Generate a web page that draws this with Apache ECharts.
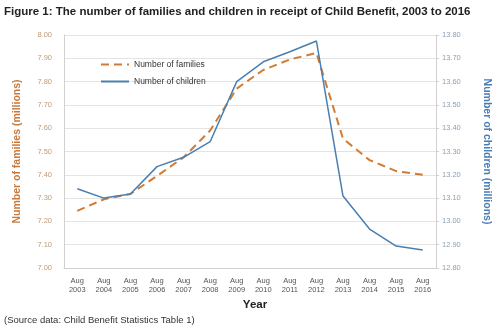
<!DOCTYPE html>
<html><head><meta charset="utf-8">
<script src="https://cdn.jsdelivr.net/npm/echarts@6/dist/echarts.min.js"></script>
<style>html,body{margin:0;padding:0;background:#fff}#c{width:500px;height:325px}</style>
</head><body><div id="c"></div>
<script>
const years = ['2003','2004','2005','2006','2007','2008','2009','2010','2011','2012','2013','2014','2015','2016'];
const categories = years.map(y => 'Aug\n' + y);
const families = [7.245, 7.295, 7.318, 7.395, 7.475, 7.59, 7.77, 7.85, 7.895, 7.923, 7.555, 7.463, 7.416, 7.40];
const children = [13.14, 13.10, 13.118, 13.235, 13.275, 13.342, 13.60, 13.685, 13.728, 13.774, 13.109, 12.967, 12.894, 12.877];
const leftTicks = [7.0, 8.0, 0.1];
const rightTicks = [12.8, 13.8, 0.1];

const chart = echarts.init(document.getElementById('c'), null, {renderer: 'canvas'});
const font = 'Liberation Sans, Arial, sans-serif';
chart.setOption({
  animation: false,
  textStyle: {fontFamily: font},
  title: [
    {text: 'Figure 1: The number of families and children in receipt of Child Benefit, 2003 to 2016',
     left: 4, top: 6, padding: 0, textStyle: {fontSize: 11.5, fontWeight: 'bold', color: '#222', fontFamily: font}},
    {text: '(Source data: Child Benefit Statistics Table 1)', left: 4, top: 315, padding: 0,
     textStyle: {fontSize: 9.5, fontWeight: 'normal', color: '#333', fontFamily: font}}
  ],
  grid: {left: 64, right: 63, top: 35, bottom: 57},
  legend: {
    orient: 'vertical', left: 95, top: 55, itemGap: 8, itemWidth: 28, itemHeight: 8,
    itemStyle: {opacity: 0},
    textStyle: {fontSize: 8.5, color: '#333', fontFamily: font},
    data: ['Number of families', 'Number of children']
  },
  xAxis: {
    type: 'category', data: categories, boundaryGap: true,
    name: 'Year', nameLocation: 'middle', nameGap: 29,
    nameTextStyle: {fontSize: 11.5, fontWeight: 'bold', color: '#222', padding: [0, 0, 0, 10]},
    axisLine: {lineStyle: {color: '#d0d0d0'}},
    axisTick: {show: false},
    axisLabel: {fontSize: 7.5, color: '#555', lineHeight: 9, interval: 0}
  },
  yAxis: [
    {type: 'value', min: leftTicks[0], max: leftTicks[1], interval: leftTicks[2],
     name: 'Number of families (millions)', nameLocation: 'middle', nameGap: 41,
     nameTextStyle: {fontSize: 10.5, fontWeight: 'bold', color: '#c8783a'},
     axisLine: {show: true, lineStyle: {color: '#d0d0d0'}},
     axisTick: {show: false},
     axisLabel: {fontSize: 7.5, color: '#c09a78', formatter: v => v.toFixed(2), margin: 12},
     splitLine: {lineStyle: {color: '#e4e4e4'}}},
    {type: 'value', min: rightTicks[0], max: rightTicks[1], interval: rightTicks[2], position: 'right',
     name: 'Number of children (millions)', nameLocation: 'middle', nameGap: 45, nameRotate: -90,
     nameTextStyle: {fontSize: 10.5, fontWeight: 'bold', color: '#4a7db5'},
     axisLine: {show: true, lineStyle: {color: '#d0d0d0'}},
     axisTick: {show: true, length: 3, lineStyle: {color: '#d0d0d0'}},
     axisLabel: {fontSize: 7.5, color: '#8a9fb8', formatter: v => v.toFixed(2), margin: 6},
     splitLine: {show: false}}
  ],
  series: [
    {name: 'Number of families', type: 'line', yAxisIndex: 0, data: families, symbol: 'none',
     lineStyle: {color: '#d27b34', width: 2, type: [8, 5]}, itemStyle: {color: '#d27b34'}},
    {name: 'Number of children', type: 'line', yAxisIndex: 1, data: children, symbol: 'none',
     lineStyle: {color: '#4a7eb0', width: 1.5}, itemStyle: {color: '#4a7eb0'}}
  ]
});
</script></body></html>
